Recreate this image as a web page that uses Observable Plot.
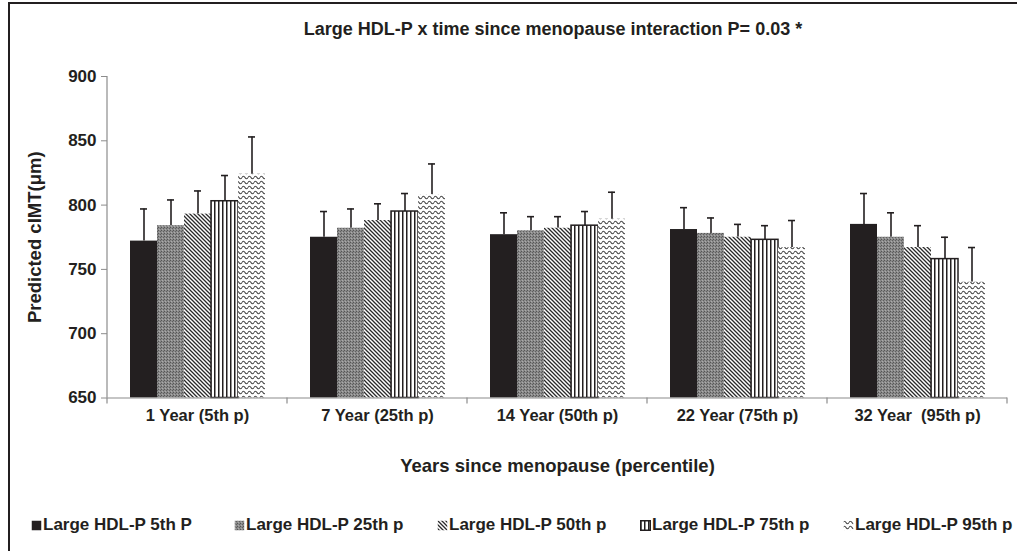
<!DOCTYPE html>
<html>
<head>
<meta charset="utf-8">
<script src="https://cdn.jsdelivr.net/npm/d3@7"></script>
<script src="https://cdn.jsdelivr.net/npm/@observablehq/plot@0.6"></script>
<style>
  html, body { margin: 0; padding: 0; background: #fff; }
  #root { position: relative; width: 1017px; height: 551px; overflow: hidden; font-family: "Liberation Sans", Arial, sans-serif; color: #231f20; font-weight: bold; }
  #frame { position: absolute; left: 8px; top: 2px; width: 1100px; height: 700px; border: 2px solid #231f20; box-sizing: border-box; }
  #title { position: absolute; left: 0; top: 19px; width: 1106px; text-align: center; font-size: 18px; }
  #chart { position: absolute; left: 0; top: 50px; }
  #chart svg text { white-space: pre; }
  #legend { position: absolute; left: 31px; top: 515px; display: flex; font-size: 17px; }
  #legend .item { width: 203px; display: flex; align-items: center; white-space: pre; }
  #legend svg { margin-right: 1px; }
</style>
</head>
<body>
<div id="root">
  <svg width="0" height="0" style="position:absolute">
    <defs>
      <pattern id="pGrey" patternUnits="userSpaceOnUse" width="3" height="3">
        <rect width="3" height="3" fill="#8a8a8a"></rect>
        <rect x="0" y="0" width="1" height="1" fill="#555"></rect>
        <rect x="2" y="1" width="1" height="1" fill="#606060"></rect>
        <rect x="1" y="2" width="1" height="1" fill="#ababab"></rect>
      </pattern>
      <pattern id="pDiag" patternUnits="userSpaceOnUse" width="4" height="4">
        <rect width="4" height="4" fill="#fff"></rect>
        <path d="M-1,-1 L5,5 M-1,3 L1,5 M3,-1 L5,1" stroke="#2a2a2a" stroke-width="1.3"></path>
      </pattern>
      <pattern id="pVert" patternUnits="userSpaceOnUse" width="4" height="4">
        <rect width="4" height="4" fill="#fff"></rect>
        <rect x="0" width="1.5" height="4" fill="#231f20"></rect>
      </pattern>
      <pattern id="pWave" patternUnits="userSpaceOnUse" width="6" height="5">
        <rect width="6" height="5" fill="#fff"></rect>
        <path d="M0,2.5 Q1.5,0 3,2.5 T6,2.5" fill="none" stroke="#4a4a4a" stroke-width="1.2"></path>
      </pattern>
    </defs>
  </svg>
  <div id="frame"></div>
  <div id="title">Large HDL-P x time since menopause interaction P= 0.03 *</div>
  <div id="chart"></div>
  <div id="legend"></div>
</div>
<script>
// ---- data ----
const categories = ["1 Year (5th p)", "7 Year (25th p)", "14 Year (50th p)", "22 Year (75th p)", "32 Year  (95th p)"];
const series = ["Large HDL-P 5th P", "Large HDL-P 25th p", "Large HDL-P 50th p", "Large HDL-P 75th p", "Large HDL-P 95th p"];
const hdl5  = [772, 775, 777, 781, 785];
const hdl25 = [784, 782, 780, 778, 775];
const hdl50 = [793, 788, 782, 775, 767];
const hdl75 = [803, 795, 784, 773, 758];
const hdl95 = [824, 808, 789, 767, 740];
// upper end of error bars
const err5  = [797, 795, 794, 798, 809];
const err25 = [804, 797, 791, 790, 794];
const err50 = [811, 801, 791, 785, 784];
const err75 = [823, 809, 795, 784, 775];
const err95 = [853, 832, 810, 788, 767];
const yTicks = [650, 700, 750, 800, 850, 900];
const yLabel = "Predicted cIMT(\u03bcm)";
const xLabel = "Years since menopause (percentile)";

// ---- build table ----
const values = [hdl5, hdl25, hdl50, hdl75, hdl95];
const errors = [err5, err25, err50, err75, err95];
const fills = ["#231f20", "url(#pGrey)", "url(#pDiag)", "url(#pVert)", "url(#pWave)"];
const rows = categories.flatMap((c, i) => series.map((s, j) => ({cat: c, s, v: values[j][i], e: errors[j][i], base: yTicks[0]})));

const ink = "#231f20";
const axisGrey = "#8c8c8c";

const plot = Plot.plot({
  width: 1017,
  height: 440,
  marginLeft: 105,
  marginRight: 8,
  marginTop: 26,
  marginBottom: 92.5,
  style: {fontFamily: "'Liberation Sans', Arial, sans-serif", fontWeight: "bold", color: ink, background: "transparent"},
  fx: {domain: categories, padding: 0},
  x: {domain: series, paddingInner: 0, paddingOuter: 0.79, axis: null},
  y: {domain: [yTicks[0], yTicks[yTicks.length - 1]]},
  color: {domain: series, range: fills},
  marks: [
    Plot.ruleX(rows, {fx: "cat", x: "s", y1: "v", y2: "e", stroke: ink, strokeWidth: 1.6}),
    Plot.tickY(rows, {fx: "cat", x: "s", y: "e", insetLeft: 10, insetRight: 10, stroke: ink, strokeWidth: 1.6}),
    Plot.barY(rows, {fx: "cat", x: "s", y1: "base", y2: "v", fill: "s", stroke: d => d.s === series[3] ? ink : "none", strokeWidth: 1.5}),
    Plot.ruleY([yTicks[0]], {stroke: axisGrey, strokeWidth: 1.2}),
    Plot.axisY({ticks: yTicks, tickSize: 6, tickPadding: 5, fontSize: 17, stroke: axisGrey, label: yLabel, labelAnchor: "center", labelOffset: 80, labelArrow: false}),
    Plot.axisFx({anchor: "bottom", tickSize: 0, tickPadding: 11, fontSize: 16.5, label: xLabel, labelAnchor: "center", labelOffset: 74, labelArrow: false})
  ]
});
document.getElementById("chart").appendChild(plot);

// axis lines drawn from the plot's own scales
const svg = d3.select(plot);
const fxs = plot.scale("fx");
const ys = plot.scale("y");
const y0 = ys.apply(yTicks[0]);
const y1 = ys.apply(yTicks[yTicks.length - 1]);
const xLeft = fxs.apply(categories[0]);
const edges = categories.map(c => fxs.apply(c)).concat([fxs.apply(categories[categories.length - 1]) + fxs.bandwidth]);
const g = svg.append("g").attr("stroke", axisGrey).attr("stroke-width", 1.2);
g.append("line").attr("x1", xLeft).attr("x2", xLeft).attr("y1", y0).attr("y2", y1);
edges.forEach(x => g.append("line").attr("x1", x).attr("x2", x).attr("y1", y0).attr("y2", y0 + 6));
// label font sizes for axis titles
svg.selectAll("g[aria-label='y-axis label'] text, g[aria-label='fx-axis label'] text").attr("font-size", 18.5);

// legend
const legend = d3.select("#legend");
series.forEach((s, j) => {
  const item = legend.append("div").attr("class", "item");
  const sw = item.append("svg").attr("width", 11).attr("height", 11);
  sw.append("rect").attr("x", 0.75).attr("y", 0.75).attr("width", 9.5).attr("height", 9.5)
    .attr("fill", fills[j]).attr("stroke", j === 3 ? ink : "none").attr("stroke-width", 1.5);
  item.append("span").text(s);
});
</script>
</body>
</html>
